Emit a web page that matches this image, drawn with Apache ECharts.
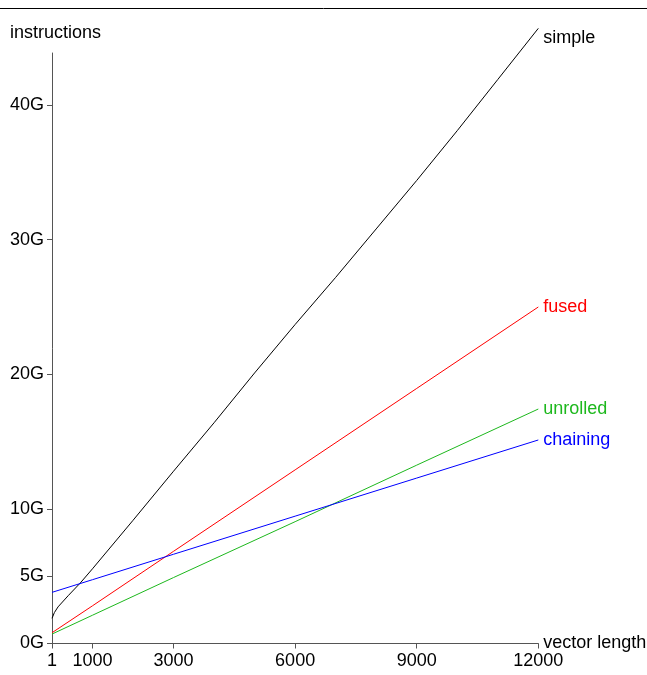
<!DOCTYPE html>
<html>
<head>
<meta charset="utf-8">
<script src="https://cdn.jsdelivr.net/npm/echarts@6/dist/echarts.min.js"></script>
<style>html,body{margin:0;padding:0;background:#fff}#c{width:647px;height:675px}</style>
</head>
<body>
<div id="c"></div>
<script>
// vector lengths (x) and instruction counts in G (y)
const simpleX = [1, 60, 150, 400, 700, 1000, 2000, 3000, 4000, 5000, 6000, 7000, 8000, 9000, 10000, 11000, 12000];
const simpleY = [1.87, 2.3, 2.72, 3.55, 4.5, 5.55, 9.15, 12.8, 16.4, 20.1, 23.7, 27.2, 30.8, 34.4, 38.1, 41.9, 45.7];
const lineX = [1, 1000, 3000, 6000, 9000, 12000];
const fusedY = [0.8, 2.8, 6.85, 12.9, 18.95, 25.0];
const unrolledY = [0.7, 2.1, 4.9, 9.05, 13.25, 17.42];
const chainingY = [3.8, 4.74, 6.63, 9.46, 12.29, 15.12];
const xTicks = [1, 1000, 3000, 6000, 9000, 12000];
const yTicks = [0, 5, 10, 20, 30, 40];

const zip = (xs, ys) => xs.map((x, i) => [x, ys[i]]);
const font = '"Liberation Sans", Arial, Helvetica, sans-serif';
const fs = 18;

function mk(name, data, color, offset) {
  return {
    name, type: 'line', data, showSymbol: false, symbol: 'none', clip: false,
    lineStyle: { color, width: 1 },
    itemStyle: { color },
    endLabel: { show: true, formatter: name, color, fontSize: fs, fontFamily: font, distance: 5, offset: offset || [0, 0] },
    emphasis: { disabled: true }, animation: false
  };
}

const chart = echarts.init(document.getElementById('c'), null, { renderer: 'canvas' });
chart.setOption({
  animation: false,
  backgroundColor: '#fff',
  grid: { left: 52, right: 108.7, top: 53, bottom: 31.5, containLabel: false, outerBoundsMode: 'none' },
  xAxis: {
    type: 'value', min: 1, max: 12000,
    name: 'vector length', nameLocation: 'end', nameGap: 5, nameMoveOverlap: false,
    nameTextStyle: { color: '#000', fontSize: fs, fontFamily: font },
    axisLine: { show: true, lineStyle: { color: '#555', width: 1 } },
    axisTick: { show: true, length: 5, lineStyle: { color: '#555' }, customValues: xTicks },
    axisLabel: { color: '#000', fontSize: fs, fontFamily: font, margin: 9, customValues: xTicks, formatter: v => String(v) },
    splitLine: { show: false }
  },
  yAxis: {
    type: 'value', min: 0, max: 43.87,
    axisLine: { show: true, lineStyle: { color: '#555', width: 1 } },
    axisTick: { show: true, length: 5, lineStyle: { color: '#555' }, customValues: yTicks },
    axisLabel: { color: '#000', fontSize: fs, fontFamily: font, margin: 8, customValues: yTicks, formatter: v => v + 'G' },
    splitLine: { show: false }
  },
  graphic: [
    { type: 'line', shape: { x1: 0, y1: 8.5, x2: 647, y2: 8.5 }, style: { stroke: '#000', lineWidth: 1 } },
    { type: 'text', left: 10, top: 24, style: { text: 'instructions', fill: '#000', fontSize: fs, fontFamily: font } }
  ],
  series: [
    mk('simple', zip(simpleX, simpleY), '#000000', [0, 10]),
    mk('fused', zip(lineX, fusedY), '#ff0000'),
    mk('unrolled', zip(lineX, unrolledY), '#1db81d'),
    mk('chaining', zip(lineX, chainingY), '#0000ff')
  ]
});
</script>
</body>
</html>
